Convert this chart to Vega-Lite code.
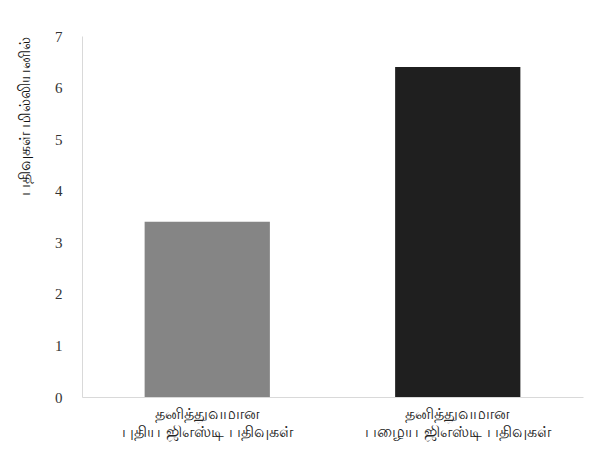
{
  "$schema": "https://vega.github.io/schema/vega-lite/v6.json",
  "autosize": "none",
  "width": 501,
  "height": 361,
  "padding": {"left": 82, "top": 36, "right": 8, "bottom": 62},
  "background": "white",
  "config": {"view": {"stroke": null}},
  "data": {
    "values": [
      {"category": "தனித்துவமான\nபுதிய  ஜிஎஸ்டி  பதிவுகள்", "value": 3.40, "color": "#858585"},
      {"category": "தனித்துவமான\nபழைய  ஜிஎஸ்டி  பதிவுகள்", "value": 6.40, "color": "#1f1f1f"}
    ]
  },
  "mark": {"type": "bar"},
  "encoding": {
    "x": {
      "field": "category",
      "type": "nominal",
      "sort": null,
      "scale": {"paddingInner": 0.5, "paddingOuter": 0.25},
      "axis": {
        "title": null,
        "labelAngle": 0,
        "labelExpr": "split(datum.label, '\\n')",
        "labelFontSize": 16,
        "labelColor": "#222222",
        "labelFont": "DejaVu Sans",
        "labelPadding": 8,
        "labelLineHeight": 18,
        "labelLimit": 400,
        "ticks": false,
        "domainColor": "#d9d9d9",
        "domainWidth": 1
      }
    },
    "y": {
      "field": "value",
      "type": "quantitative",
      "scale": {"domain": [0, 7]},
      "axis": {
        "title": "பதிவுகள்  மில்லியனில்",
        "titleAnchor": "end",
        "titleFontSize": 16,
        "titleFontWeight": "normal",
        "titleColor": "#111111",
        "titleFont": "Open Sans",
        "titlePadding": 22,
        "titleLimit": 400,
        "values": [0, 1, 2, 3, 4, 5, 6, 7],
        "labelFont": "Liberation Serif",
        "labelFontSize": 15,
        "labelColor": "#333333",
        "labelPadding": 20,
        "ticks": false,
        "grid": false,
        "domainColor": "#d9d9d9",
        "domainWidth": 1
      }
    },
    "color": {"field": "color", "type": "nominal", "scale": null, "legend": null}
  }
}
